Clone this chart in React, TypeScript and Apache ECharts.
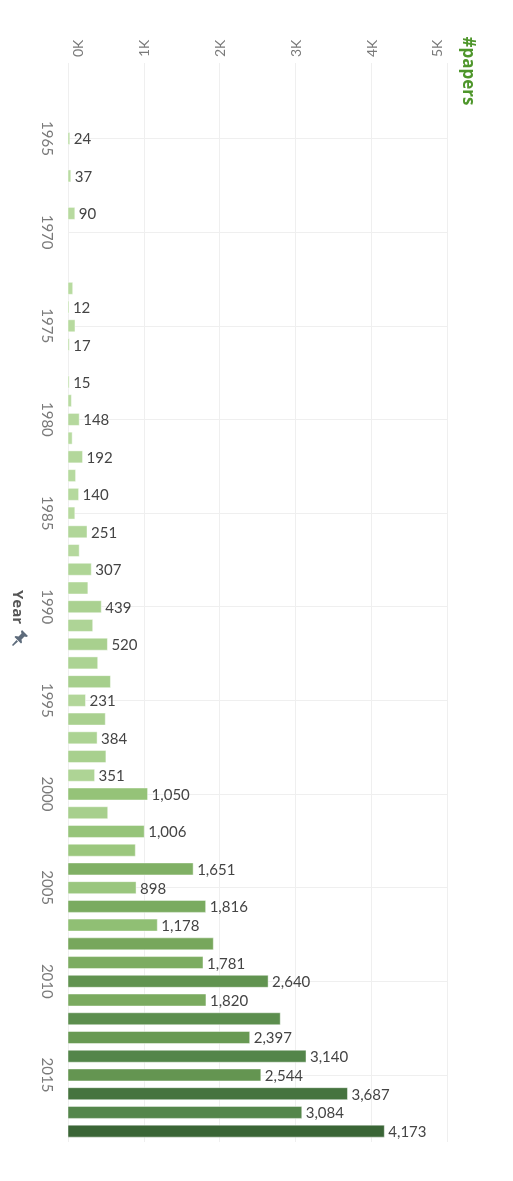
import React, { useEffect, useRef } from "react";
import * as echarts from "echarts";

// Years that have a bar (no bars for 1966, 1968, 1970-1972, 1977)
const years = [
  1965, 1967, 1969, 1973, 1974, 1975, 1976, 1978, 1979, 1980, 1981, 1982, 1983, 1984,
  1985, 1986, 1987, 1988, 1989, 1990, 1991, 1992, 1993, 1994, 1995, 1996, 1997, 1998,
  1999, 2000, 2001, 2002, 2003, 2004, 2005, 2006, 2007, 2008, 2009, 2010, 2011, 2012,
  2013, 2014, 2015, 2016, 2017, 2018,
];
// #papers per year (unlabeled bars)
const papers = [
  24, 37, 90, 62, 12, 92, 17, 15, 45, 148, 55, 192, 100, 140,
  90, 251, 148, 307, 262, 439, 326, 520, 392, 560, 231, 492, 384, 500,
  351, 1050, 524, 1006, 888, 1651, 898, 1816, 1178, 1917, 1781, 2640, 1820, 2800,
  2397, 3140, 2544, 3687, 3084, 4173,
];
// Years whose bar carries a value label
const labeledYears = [
  1965, 1967, 1969, 1974, 1976, 1978, 1980, 1982, 1984, 1986, 1988, 1990, 1992, 1995,
  1997, 1999, 2000, 2002, 2004, 2005, 2006, 2007, 2009, 2010, 2011, 2013, 2014, 2015,
  2016, 2017, 2018,
];
const valueAxisMax = 5000;
const valueAxisStep = 1000;
const yearMin = 1960.97;
const yearMax = 2018.58;
const colorRamp = ["#badca3", "#95c378", "#71a257", "#53854a", "#3a6536"];

const pinPath =
  "M10 0 L16 6 L14.5 7 L12.5 6.5 L9.5 9.5 L10 12.5 L9 13.5 L2.5 7 L3.5 6 L6.5 6.5 L9.5 3.5 L9 1.5 Z M4.5 10 L6 11.5 L1 16 L0 15 Z";
echarts.graphic.registerShape("pin", echarts.graphic.extendPath(pinPath, {}) as any);

const tickText = { color: "#7a7a7a", fontSize: 14, fontFamily: "Lato" };

export default function App() {
  const ref = useRef<HTMLDivElement>(null);
  useEffect(() => {
    const chart = echarts.init(ref.current as HTMLDivElement, null, { renderer: "svg" });
    const data = years.map((y, i) => [papers[i], y, labeledYears.includes(y) ? 1 : 0]);
    chart.setOption({
      animation: false,
      grid: { left: 68, right: 66, top: 63, bottom: 39, containLabel: false },
      visualMap: {
        show: false,
        type: "continuous",
        dimension: 0,
        min: 0,
        max: Math.max(...papers),
        seriesIndex: 0,
        inRange: { color: colorRamp },
      },
      xAxis: {
        type: "value",
        position: "top",
        min: 0,
        max: valueAxisMax,
        interval: valueAxisStep,
        axisLine: { show: false },
        axisTick: { show: false },
        axisLabel: {
          rotate: -90,
          margin: 6,
          ...tickText,
          formatter: (v: number) => {
            const t = v / 1000 + "K";
            if (v === 0) return "{first|" + t + "}";
            if (v === valueAxisMax) return "{last|" + t + "}";
            return t;
          },
          rich: {
            first: { ...tickText, padding: [18, 0, 0, 0] },
            last: { ...tickText, padding: [0, 0, 22, 0] },
          },
        },
        splitLine: { lineStyle: { color: "#efefef", width: 1 } },
      },
      yAxis: {
        type: "value",
        inverse: true,
        min: yearMin,
        max: yearMax,
        splitNumber: 12,
        axisLine: { show: false },
        axisTick: { show: false },
        axisLabel: {
          rotate: -90,
          margin: 13,
          color: "#7a7a7a",
          fontSize: 15,
          fontFamily: "Lato",
          showMinLabel: false,
          showMaxLabel: false,
          formatter: (v: number) => (Math.abs(v % 5) < 1e-6 ? String(Math.round(v)) : ""),
        },
        splitLine: {
          showMinLine: false,
          showMaxLine: false,
          lineStyle: { color: "#efefef", width: 1 },
        },
      },
      graphic: [
        {
          type: "text",
          x: 469,
          y: 71,
          rotation: -Math.PI / 2,
          style: {
            text: "#papers",
            fill: "#4e962b",
            font: 'bold 17px "Open Sans"',
            align: "center",
            verticalAlign: "middle",
          },
        },
        {
          type: "text",
          x: 19,
          y: 607,
          rotation: -Math.PI / 2,
          style: {
            text: "Year",
            fill: "#555555",
            font: 'bold 15px "Open Sans"',
            align: "center",
            verticalAlign: "middle",
          },
        },
        {
          type: "pin",
          x: 12,
          y: 630,
          scaleX: 1.0,
          scaleY: 1.0,
          style: { fill: "#5d6b7b" },
        },
      ],
      series: [
        {
          type: "custom",
          encode: { x: 0, y: 1 },
          data,
          renderItem: (params: any, api: any) => {
            const v = api.value(0) as number;
            const yr = api.value(1) as number;
            const show = api.value(2) as number;
            const p0 = api.coord([0, yr]);
            const p1 = api.coord([v, yr]);
            const h = 12;
            const children: any[] = [
              {
                type: "rect",
                shape: { x: p0[0], y: p0[1] - h / 2, width: Math.max(p1[0] - p0[0], 1), height: h },
                style: { fill: api.visual("color"), stroke: "rgba(255,255,255,0.45)", lineWidth: 1 },
              },
            ];
            if (show) {
              children.push({
                type: "text",
                x: p1[0] + 4,
                y: p1[1],
                style: {
                  text: v.toLocaleString("en-US"),
                  fill: "#444444",
                  font: '15px "Lato"',
                  align: "left",
                  verticalAlign: "middle",
                },
              });
            }
            return { type: "group", children };
          },
        },
      ],
    });
    return () => chart.dispose();
  }, []);
  return <div ref={ref} style={{ position: "fixed", left: 0, top: 0, width: 513, height: 1181 }} />;
}
